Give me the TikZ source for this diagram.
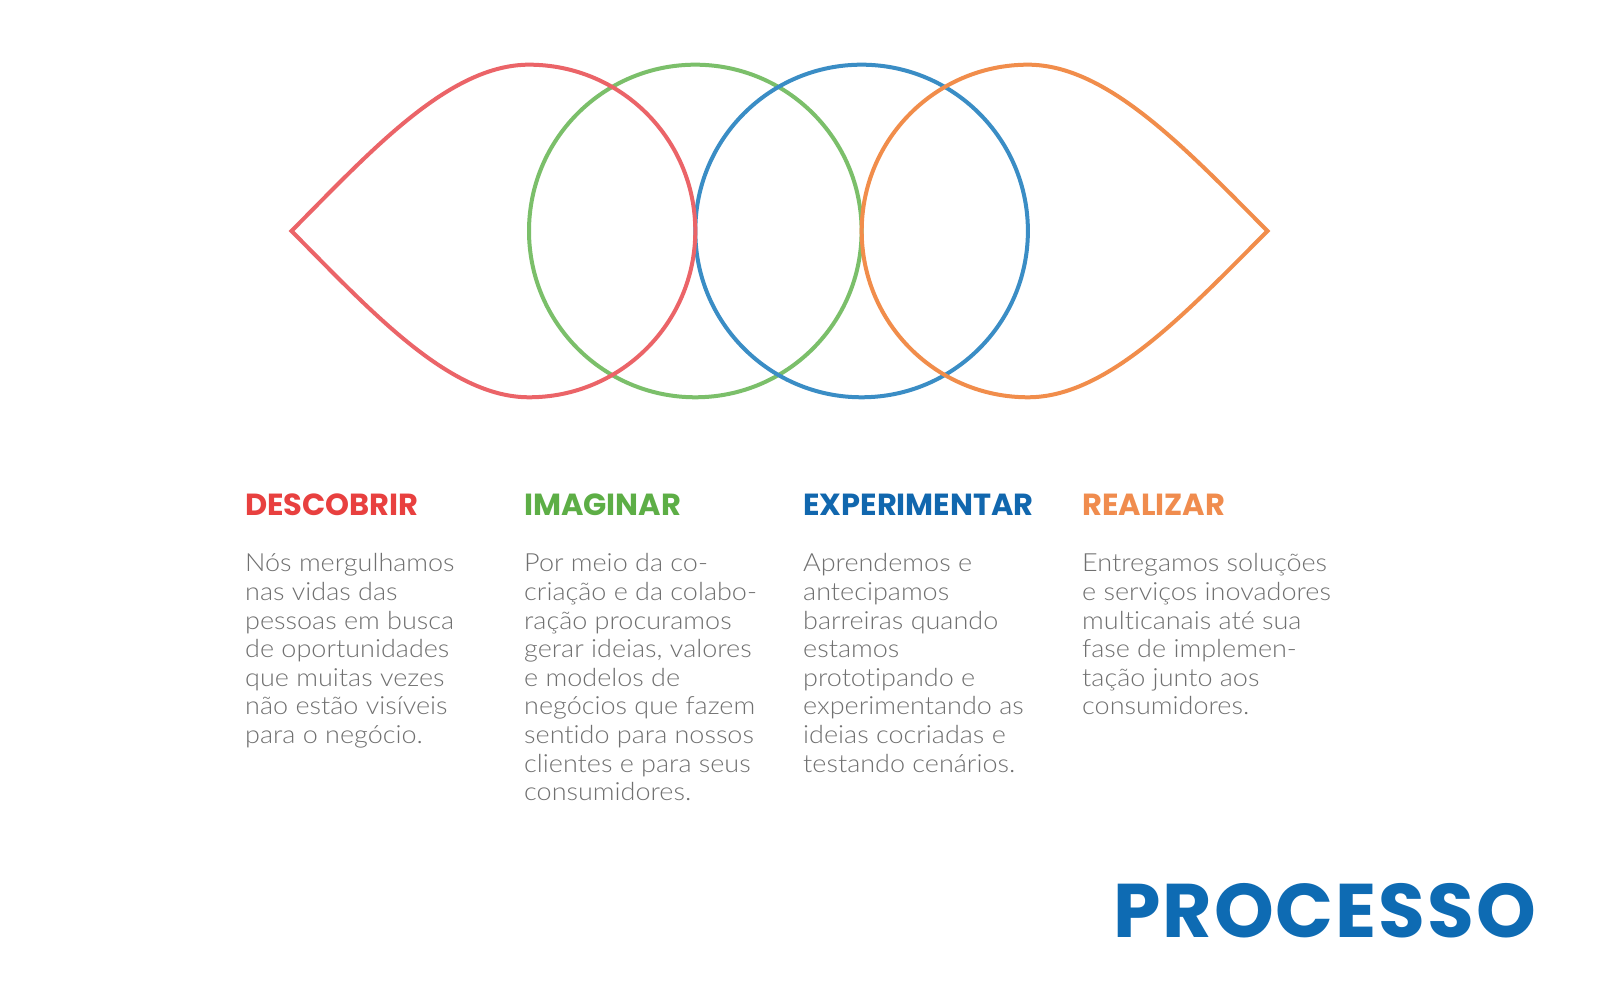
\documentclass[tikz,border=0pt]{standalone}
\usepackage{fontspec}
\newfontfamily\headfont{Poppins}
\newfontfamily\bodyfont{Lato Light}[FakeStretch=1.08, Ligatures={NoCommon,NoRare}]
\definecolor{lred}{HTML}{EB6468}
\definecolor{lgreen}{HTML}{7BBF6A}
\definecolor{lblue}{HTML}{3A8DC5}
\definecolor{lorange}{HTML}{F18D4B}
\definecolor{hred}{HTML}{E8403F}
\definecolor{hgreen}{HTML}{5DAE46}
\definecolor{hblue}{HTML}{1167AE}
\definecolor{horange}{HTML}{F08C4E}
\definecolor{bodygray}{HTML}{707070}
\definecolor{procblue}{HTML}{0E6BB3}
\tikzset{
  shapeline/.style={line width=4pt, line join=miter},
  heading/.style={anchor=base west, inner sep=0pt, font=\headfont\bfseries\fontsize{30.5}{32}\selectfont},
  bodytext/.style={anchor=base west, inner sep=0pt, align=left, text=bodygray, font=\bodyfont\fontsize{25}{28.6}\selectfont},
}
\begin{document}
\begin{tikzpicture}[x=1pt,y=1pt]
\useasboundingbox (0,0) rectangle (1600,1000);
\fill[white] (0,0) rectangle (1600,1000);
% shapes
\draw[shapeline, lgreen] (695.3,769) circle[radius=166.3];
\draw[shapeline, lblue] (861.6,769) circle[radius=166.3];
\draw[shapeline, lred] (291.5,769) .. controls (371,849) and (449,935.3) .. (529,935.3)
  arc[start angle=90, end angle=-90, radius=166.3]
  .. controls (449,602.7) and (371,689) .. cycle;
\draw[shapeline, lorange] (1267.5,769) .. controls (1187.5,849) and (1108,935.3) .. (1028,935.3)
  arc[start angle=90, end angle=270, radius=166.3]
  .. controls (1108,602.7) and (1187.5,689) .. cycle;
% headings
\node[heading, text=hred] (h1) at (245,484) {DESCOBRIR};
\node[heading, text=hgreen] (h2) at (524,484) {IMAGINAR};
\node[heading, text=hblue] (h3) at (803,484) {EXPERIMENTAR};
\node[heading, text=horange] (h4) at (1082,484) {REALIZAR};
% bodies (anchored at the baseline of the last line; first line baseline at y=428)
\node[bodytext] (b1) at (245,256.4) {Nós mergulhamos\\nas vidas das\\pessoas em busca\\de oportunidades\\que muitas vezes\\não estão visíveis\\para o negócio.};
\node[bodytext] (b2) at (524,199.2) {Por meio da co-\\criação e da colabo-\\ração procuramos\\gerar ideias, valores\\e modelos de\\negócios que fazem\\sentido para nossos\\clientes e para seus\\consumidores.};
\node[bodytext] (b3) at (803,227.8) {Aprendemos e\\antecipamos\\barreiras quando\\estamos\\prototipando e\\experimentando as\\ideias cocriadas e\\testando cenários.};
\node[bodytext] (b4) at (1082,285) {Entregamos soluções\\e serviços inovadores\\multicanais até sua\\fase de implemen-\\tação junto aos\\consumidores.};
% title
\node[anchor=base east, inner sep=0pt, text=procblue, font=\headfont\bfseries\fontsize{76}{80}\selectfont\addfontfeature{LetterSpace=2.5}] (title) at (1536,62) {PROCESSO};
\end{tikzpicture}
\end{document}
